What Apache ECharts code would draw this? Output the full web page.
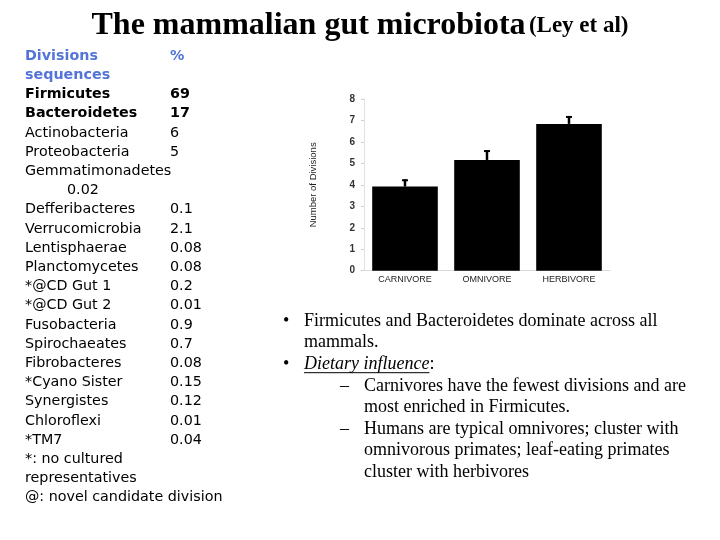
<!DOCTYPE html>
<html>
<head>
<meta charset="utf-8">
<script src="https://cdn.jsdelivr.net/npm/echarts@6/dist/echarts.min.js"></script>
<style>html,body{margin:0;padding:0;background:#fff}#c{width:720px;height:540px}</style>
</head>
<body>
<div id="c"></div>
<script>
// ---- data ----
var dietCategories = ['CARNIVORE', 'OMNIVORE', 'HERBIVORE'];
var divisionCounts = [3.92, 5.16, 6.84];
var divisionErrTop = [4.26, 5.62, 7.21];
var yTicks = [0, 1, 2, 3, 4, 5, 6, 7, 8];

var divisionNames = ['Firmicutes', 'Bacteroidetes', 'Actinobacteria', 'Proteobacteria', 'Gemmatimonadetes',
  'Defferibacteres', 'Verrucomicrobia', 'Lentisphaerae', 'Planctomycetes', '*@CD Gut 1', '*@CD Gut 2',
  'Fusobacteria', 'Spirochaeates', 'Fibrobacteres', '*Cyano Sister', 'Synergistes', 'Chloroflexi', '*TM7'];
var divisionPercents = ['69', '17', '6', '5', '0.02', '0.1', '2.1', '0.08', '0.08', '0.2', '0.01',
  '0.9', '0.7', '0.08', '0.15', '0.12', '0.01', '0.04'];
var boldDivisions = ['Firmicutes', 'Bacteroidetes'];
var footnotes = ['*: no cultured', 'representatives', '@: novel candidate division'];

var titleMain = 'The mammalian gut microbiota';
var titleSub = '(Ley et al)';
var bulletLines = [
  {lvl: 1, mark: true, text: 'Firmicutes and Bacteroidetes dominate across all'},
  {lvl: 1, mark: false, text: 'mammals.'},
  {lvl: 1, mark: true, text: 'Dietary influence', italicU: true, after: ':'},
  {lvl: 2, mark: true, text: 'Carnivores have the fewest divisions and are'},
  {lvl: 2, mark: false, text: 'most enriched in Firmicutes.'},
  {lvl: 2, mark: true, text: 'Humans are typical omnivores; cluster with'},
  {lvl: 2, mark: false, text: 'omnivorous primates; leaf-eating primates'},
  {lvl: 2, mark: false, text: 'cluster with herbivores'}
];

// ---- layout helpers ----
var LEFT_FONT = '"DejaVu Sans", sans-serif';
var SERIF = '"Liberation Serif", "Times New Roman", serif';
var measureCtx = document.createElement('canvas').getContext('2d');
function measure(font, t) { measureCtx.font = font; return measureCtx.measureText(t).width; }

function txt(text, x, y, opt) {
  opt = opt || {};
  return {
    type: 'text', x: x, y: y, silent: true,
    style: {
      text: text,
      fill: opt.fill || '#000',
      fontSize: opt.size || 14,
      fontFamily: opt.family || LEFT_FONT,
      fontWeight: opt.weight || 'normal',
      fontStyle: opt.style || 'normal',
      textAlign: opt.align || 'left', align: opt.align || 'left',
      textVerticalAlign: 'middle', verticalAlign: 'middle'
    }
  };
}

var graphics = [];
// title
graphics.push({
  type: 'text', x: 360, y: 26, silent: true,
  style: {
    text: '{a|' + titleMain + '} {b|' + titleSub + '}',
    textAlign: 'center', align: 'center', textVerticalAlign: 'middle', verticalAlign: 'middle',
    rich: {
      a: {fontFamily: SERIF, fontSize: 32, fontWeight: 'bold', fill: '#000', color: '#000'},
      b: {fontFamily: SERIF, fontSize: 23, fontWeight: 'bold', fill: '#000', color: '#000'}
    }
  }
});

// left table
var LY0 = 56, LDY = 19.2, LX = 25, NX = 170, LFS = 14.3;
var blue = '#5375d8';
graphics.push(txt('Divisions', LX, LY0, {fill: blue, weight: 'bold', size: LFS}));
graphics.push(txt('%', NX, LY0, {fill: blue, weight: 'bold', size: LFS}));
graphics.push(txt('sequences', LX, LY0 + LDY, {fill: blue, weight: 'bold', size: LFS}));
var row = 2;
for (var i = 0; i < divisionNames.length; i++) {
  var nm = divisionNames[i];
  var isBold = boldDivisions.indexOf(nm) >= 0;
  var w = isBold ? 'bold' : 'normal';
  graphics.push(txt(nm, LX, LY0 + LDY * row, {weight: w, size: LFS}));
  if (nm === 'Gemmatimonadetes') {
    row++;
    graphics.push(txt(divisionPercents[i], 67, LY0 + LDY * row, {weight: w, size: LFS}));
  } else {
    graphics.push(txt(divisionPercents[i], NX, LY0 + LDY * row, {weight: w, size: LFS}));
  }
  row++;
}
for (var f = 0; f < footnotes.length; f++) {
  graphics.push(txt(footnotes[f], LX, LY0 + LDY * row, {size: LFS}));
  row++;
}

// right bullets
var BY0 = 321, BDY = 21.6, BFS = 18;
for (var b = 0; b < bulletLines.length; b++) {
  var L = bulletLines[b];
  var y = BY0 + BDY * b;
  var tx = L.lvl === 1 ? 304 : 364;
  if (L.mark) {
    if (L.lvl === 1) graphics.push(txt('\u2022', 283, y, {family: SERIF, size: BFS}));
    else graphics.push(txt('\u2013', 340, y, {family: SERIF, size: BFS}));
  }
  if (L.italicU) {
    var ifont = 'italic ' + BFS + 'px ' + SERIF;
    var wi = measure(ifont, L.text);
    graphics.push(txt(L.text, tx, y, {family: SERIF, size: BFS, style: 'italic'}));
    graphics.push(txt(L.after, tx + wi, y, {family: SERIF, size: BFS}));
    graphics.push({type: 'line', silent: true, shape: {x1: tx, y1: y + 8.5, x2: tx + wi, y2: y + 8.5},
      style: {stroke: '#000', lineWidth: 1}});
  } else {
    graphics.push(txt(L.text, tx, y, {family: SERIF, size: BFS}));
  }
}

var chart = echarts.init(document.getElementById('c'), null, {renderer: 'canvas'});
var narrow = '"Liberation Sans Narrow", "Liberation Sans", Arial, sans-serif';
chart.setOption({
  animation: false,
  backgroundColor: '#fff',
  grid: {left: 364, right: 110, top: 99, bottom: 269.3, containLabel: false},
  xAxis: {
    type: 'category', data: dietCategories,
    axisLine: {show: true, lineStyle: {color: '#d8d8d8', width: 1}},
    axisTick: {show: false},
    axisLabel: {fontFamily: 'Liberation Sans, Arial, sans-serif', fontSize: 9, color: '#222', margin: 4}
  },
  yAxis: {
    type: 'value', min: 0, max: 8, interval: 1,
    name: 'Number of Divisions', nameLocation: 'middle', nameGap: 46, nameRotate: 90,
    nameTextStyle: {fontFamily: narrow, fontSize: 9.5, color: '#222'},
    axisLine: {show: true, lineStyle: {color: '#e2e2e2'}},
    axisTick: {show: true, length: 3, lineStyle: {color: '#d0d0d0'}},
    splitLine: {show: false},
    axisLabel: {fontFamily: 'Liberation Sans, Arial, sans-serif', fontSize: 10, fontWeight: 'bold', color: '#333', margin: 9,
      formatter: function (v) { return yTicks.indexOf(v) >= 0 ? String(v) : ''; }}
  },
  series: [
    {
      type: 'bar', data: divisionCounts, barWidth: '80%',
      itemStyle: {color: '#000'}, silent: true
    },
    {
      type: 'custom', silent: true,
      data: dietCategories.map(function (c, i) { return [i, divisionCounts[i], divisionErrTop[i]]; }),
      renderItem: function (params, api) {
        var base = api.coord([api.value(0), api.value(1)]);
        var top = api.coord([api.value(0), api.value(2)]);
        var cx = base[0];
        return {
          type: 'group', children: [
            {type: 'line', shape: {x1: cx, y1: base[1], x2: cx, y2: top[1]}, style: {stroke: '#000', lineWidth: 2.5}},
            {type: 'line', shape: {x1: cx - 3, y1: top[1] + 1, x2: cx + 3, y2: top[1] + 1}, style: {stroke: '#000', lineWidth: 2}}
          ]
        };
      },
      z: 3
    }
  ],
  graphic: graphics
});
</script>
</body>
</html>
